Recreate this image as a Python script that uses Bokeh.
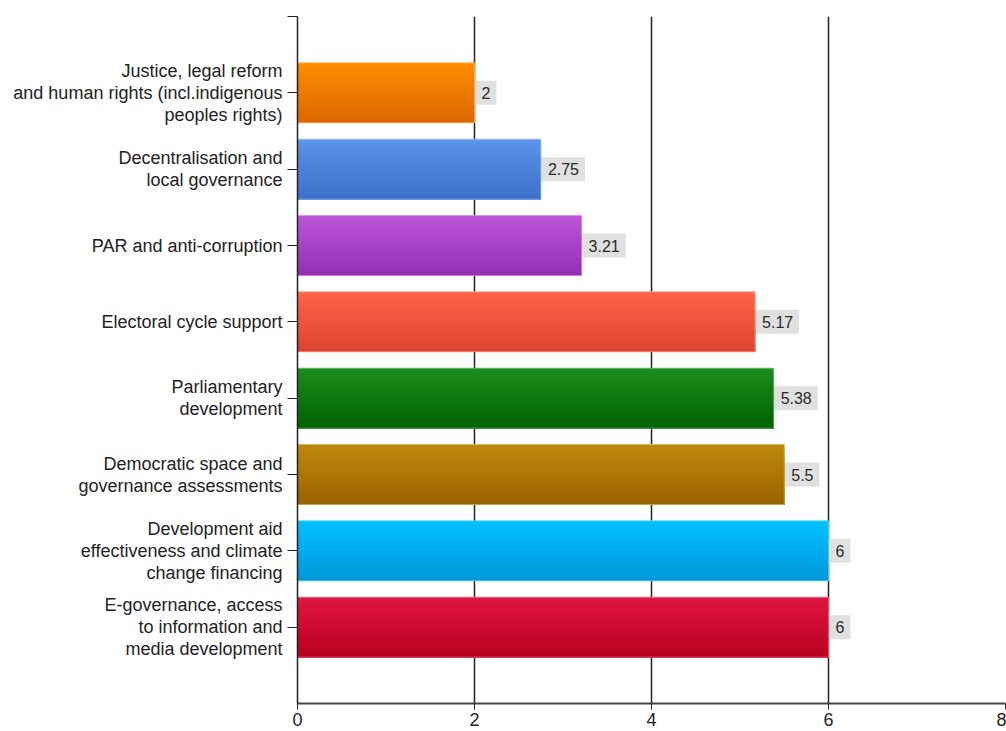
from bokeh.plotting import figure
from bokeh.models import Range1d, FixedTicker, Label
from bokeh.embed import file_html
from bokeh.resources import INLINE

categories = [
    "Justice, legal reform\nand human rights (incl.indigenous\npeoples rights)",
    "Decentralisation and\nlocal governance",
    "PAR and anti-corruption",
    "Electoral cycle support",
    "Parliamentary\ndevelopment",
    "Democratic space and\ngovernance assessments",
    "Development aid\neffectiveness and climate\nchange financing",
    "E-governance, access\nto information and\nmedia development",
]
values = [2, 2.75, 3.21, 5.17, 5.38, 5.5, 6, 6]
labels = ["2", "2.75", "3.21", "5.17", "5.38", "5.5", "6", "6"]
top_colors = ["#FF8C00", "#5E93EA", "#BC55DA", "#FF6448", "#1C8C1C", "#BC890C", "#00C0FF", "#DE1640"]
bottom_colors = ["#DC6800", "#3C70CA", "#9230B2", "#DA4430", "#006200", "#9A6200", "#0098DA", "#BA0020"]
x_ticks = [0, 2, 4, 6, 8]

def hex2rgb(h):
    h = h.lstrip("#")
    return tuple(int(h[i:i + 2], 16) for i in (0, 2, 4))

def mix(a, b, t):
    ra, rb = hex2rgb(a), hex2rgb(b)
    return "#%02x%02x%02x" % tuple(int(round(ra[i] + (rb[i] - ra[i]) * t)) for i in range(3))

def text_w(s):
    return sum(4.4 if ch == "." else 8.9 for ch in s)

n = len(categories)
positions = list(range(1, n + 1))

p = figure(width=1006, height=731, output_backend="svg", toolbar_location=None,
           x_range=Range1d(0, 8), y_range=Range1d(n + 1, 0))
p.min_border_left = 297
p.min_border_right = 1
p.min_border_top = 16
p.min_border_bottom = 28
p.outline_line_color = None
p.background_fill_color = "white"
p.border_fill_color = "white"

# label boxes (left half hidden under the bars)
box_w = [2 * (text_w(s) + 13) for s in labels]
p.rect(x=values, y=positions, width=box_w, height=24, width_units="screen",
       height_units="screen", fill_color="#e0e0e0", line_color=None)

bar_h = 0.785
slices = 30
tops, bottoms, lefts, rights, cols = [], [], [], [], []
for i, (pos, v) in enumerate(zip(positions, values)):
    for k in range(slices):
        t = k / (slices - 1)
        tops.append(pos - bar_h / 2 + k * bar_h / slices)
        bottoms.append(pos + bar_h / 2)
        lefts.append(0)
        rights.append(v)
        cols.append(mix(top_colors[i], bottom_colors[i], t))
p.quad(left=lefts, right=rights, top=tops, bottom=bottoms,
       fill_color=cols, line_color=None)
p.hbar(y=positions, left=0, right=values, height=bar_h, fill_color=None,
       line_color=[mix(c, "#ffffff", 0.35) for c in top_colors], line_width=1, line_alpha=0.8)

for pos, v, lab in zip(positions, values, labels):
    p.add_layout(Label(x=v, y=pos, text=lab, x_offset=7, text_baseline="middle",
                       text_align="left", text_font="Liberation Sans", text_font_size="16px",
                       text_color="#2a2a2a"))

# axes
p.xaxis.ticker = FixedTicker(ticks=x_ticks)
p.xaxis.axis_line_color = "#444444"
p.xaxis.axis_line_width = 2
p.xaxis.major_tick_line_color = "#222222"
p.xaxis.major_tick_out = 6
p.xaxis.major_tick_in = 0
p.xaxis.minor_tick_line_color = None
p.xaxis.major_label_text_font = "Liberation Sans"
p.xaxis.major_label_text_font_size = "18px"
p.xaxis.major_label_text_color = "#222222"
p.xaxis.major_label_standoff = 3

p.yaxis.ticker = FixedTicker(ticks=[0] + positions)
p.yaxis.major_label_overrides = {0: ""} | {pos: c for pos, c in zip(positions, categories)}
p.yaxis.axis_line_color = "#222222"
p.yaxis.axis_line_width = 1.5
p.yaxis.major_tick_line_color = "#222222"
p.yaxis.major_tick_out = 10
p.yaxis.major_tick_in = 0
p.yaxis.minor_tick_line_color = None
p.yaxis.major_label_text_font = "Liberation Sans"
p.yaxis.major_label_text_font_size = "18px"
p.yaxis.major_label_text_color = "#222222"
p.yaxis.major_label_text_line_height = 1.1
p.yaxis.major_label_standoff = 5

p.ygrid.grid_line_color = None
p.xgrid.ticker = FixedTicker(ticks=x_ticks[1:])
p.xgrid.grid_line_color = "#222222"
p.xgrid.grid_line_width = 1.5

open("out.html", "w").write(file_html(p, INLINE))
